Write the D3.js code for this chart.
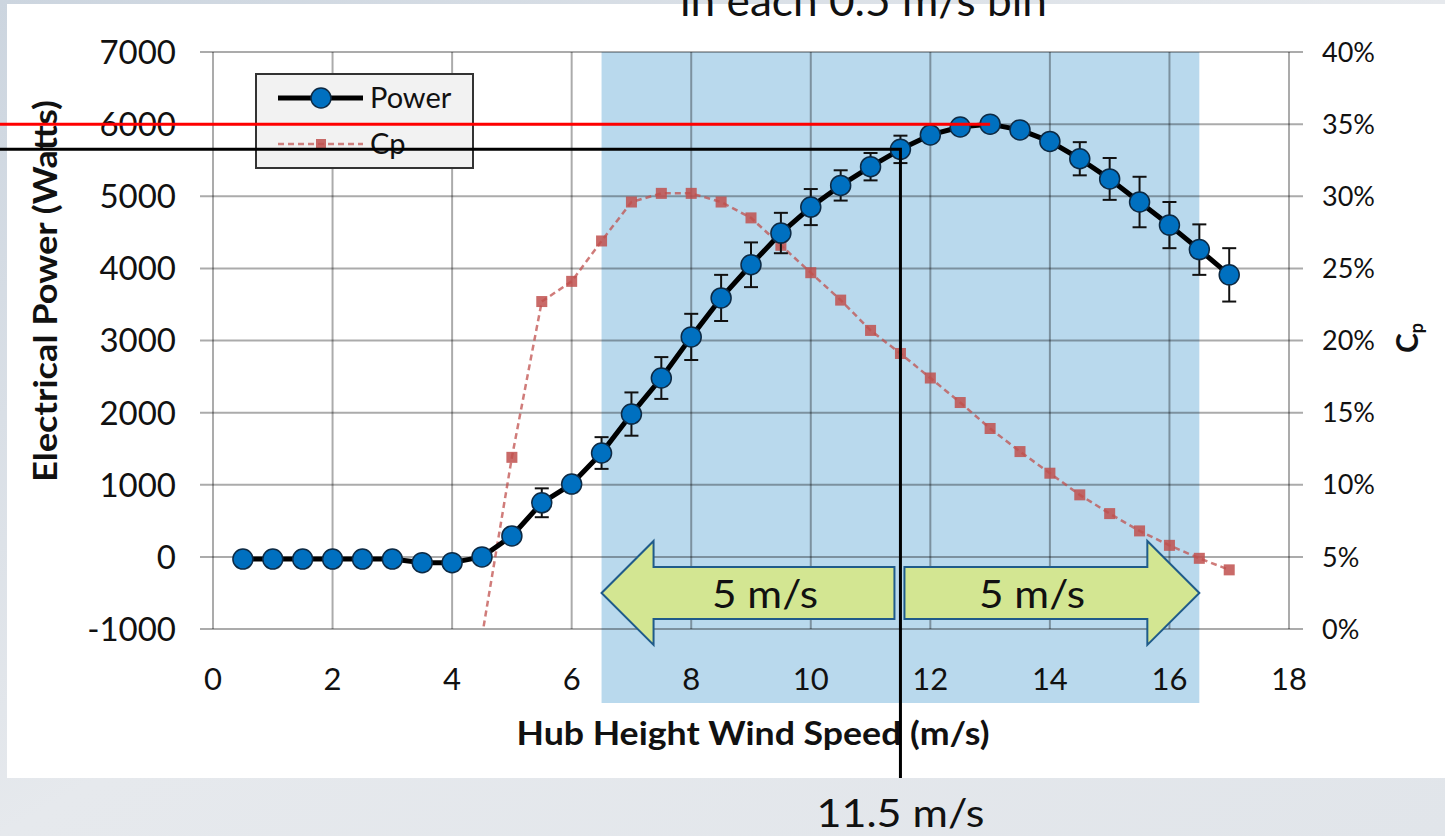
<!DOCTYPE html>
<html>
<head>
<meta charset="utf-8">
<script src="https://cdn.jsdelivr.net/npm/d3@7"></script>
<style>
  body { margin: 0; background: #e2e7ec; }
  svg { display: block; }
  text { font-family: Lato, "Open Sans", sans-serif; fill: #111; }
</style>
</head>
<body>
<script>
let width = 1445;
let height = 836;

// wind speed bins (m/s)
let speeds = [0.5, 1, 1.5, 2, 2.5, 3, 3.5, 4, 4.5, 5, 5.5, 6, 6.5, 7, 7.5, 8, 8.5,
              9, 9.5, 10, 10.5, 11, 11.5, 12, 12.5, 13, 13.5, 14, 14.5, 15, 15.5, 16, 16.5, 17];
// electrical power (W)
let power = [-30, -30, -30, -30, -30, -30, -80, -80, 0, 290, 750, 1010, 1440, 1980, 2480, 3050, 3590,
             4050, 4490, 4850, 5150, 5410, 5650, 5850, 5960, 6000, 5920, 5760, 5520, 5240, 4920, 4600, 4260, 3910];
// +/- error bar (W)
let powerErr = [0, 0, 0, 0, 0, 0, 0, 0, 0, 0, 200, 0, 220, 300, 290, 320, 320,
                310, 280, 250, 210, 190, 190, 0, 0, 0, 0, 0, 230, 290, 350, 320, 350, 370];
// power coefficient (fraction), starts at 4.5 m/s
let cpSpeeds = [4.5, 5, 5.5, 6, 6.5, 7, 7.5, 8, 8.5, 9, 9.5, 10, 10.5, 11, 11.5, 12,
                12.5, 13, 13.5, 14, 14.5, 15, 15.5, 16, 16.5, 17];
let cp = [-0.005, 0.119, 0.227, 0.241, 0.269, 0.296, 0.302, 0.302, 0.296, 0.285, 0.266, 0.247, 0.228, 0.207, 0.191, 0.174,
          0.157, 0.139, 0.123, 0.108, 0.093, 0.080, 0.068, 0.058, 0.049, 0.041];

let xTicks = [0, 2, 4, 6, 8, 10, 12, 14, 16, 18];
let yTicks = [-1000, 0, 1000, 2000, 3000, 4000, 5000, 6000, 7000];
let cpTicks = [0, 0.05, 0.10, 0.15, 0.20, 0.25, 0.30, 0.35, 0.40];

let rangeSpan = [6.5, 16.5];   // shaded band
let ratedSpeed = 11.5;
let peakSpeed = 13;

let x = d3.scaleLinear().domain([0, 18]).range([213, 1289]);
let yP = d3.scaleLinear().domain([-1000, 7000]).range([629, 52]);
let yC = d3.scaleLinear().domain([0, 0.4]).range([629, 52]);

let svg = d3.select("body").append("svg")
  .attr("width", width)
  .attr("height", height);

// backdrop
let defs = svg.append("defs");
let grad = defs.append("linearGradient").attr("id", "sky")
  .attr("x1", 0).attr("y1", 0).attr("x2", 1).attr("y2", 1);
grad.append("stop").attr("offset", "0%").attr("stop-color", "#ccd5df");
grad.append("stop").attr("offset", "50%").attr("stop-color", "#e6e9ed");
grad.append("stop").attr("offset", "100%").attr("stop-color", "#e1e5ea");
defs.append("clipPath").attr("id", "plotclip")
  .append("rect").attr("x", 213).attr("y", 52).attr("width", 1076).attr("height", 577);

svg.append("rect").attr("width", width).attr("height", height).attr("fill", "url(#sky)");
svg.append("rect").attr("x", 7).attr("y", 4).attr("width", width - 7).attr("height", 774).attr("fill", "#fff");

// shaded band
svg.append("rect")
  .attr("x", x(rangeSpan[0]))
  .attr("y", 52)
  .attr("width", x(rangeSpan[1]) - x(rangeSpan[0]))
  .attr("height", 651)
  .attr("fill", "#b9d9ed");

// grid
let grid = svg.append("g").attr("stroke", "#000").attr("stroke-opacity", 0.33).attr("stroke-width", 2);
grid.selectAll(".hg").data(yTicks).enter().append("line")
  .attr("x1", 200).attr("x2", 1303)
  .attr("y1", d => yP(d)).attr("y2", d => yP(d));
grid.selectAll(".vg").data(xTicks).enter().append("line")
  .attr("x1", d => x(d)).attr("x2", d => x(d))
  .attr("y1", 52).attr("y2", 629);

// left axis labels
svg.append("g").selectAll("text").data(yTicks).enter().append("text")
  .attr("x", 176).attr("y", d => yP(d)).attr("dy", "0.36em")
  .attr("text-anchor", "end").attr("font-size", 33)
  .text(d => d);
// right axis labels
svg.append("g").selectAll("text").data(cpTicks).enter().append("text")
  .attr("x", 1322).attr("y", d => yC(d)).attr("dy", "0.36em")
  .attr("font-size", 27)
  .text(d => d3.format(".0%")(d));
// bottom labels
svg.append("g").selectAll("text").data(xTicks).enter().append("text")
  .attr("x", d => x(d)).attr("y", 690)
  .attr("text-anchor", "middle").attr("font-size", 31)
  .text(d => d);

// axis titles
svg.append("text")
  .attr("x", 753).attr("y", 745)
  .attr("text-anchor", "middle").attr("font-size", 32).attr("font-weight", "bold")
  .attr("textLength", 473).attr("lengthAdjust", "spacingAndGlyphs")
  .text("Hub Height Wind Speed (m/s)");
svg.append("text")
  .attr("transform", "translate(57,291) rotate(-90)")
  .attr("text-anchor", "middle").attr("font-size", 33).attr("font-weight", "bold")
  .attr("textLength", 382).attr("lengthAdjust", "spacingAndGlyphs")
  .text("Electrical Power (Watts)");
let cpTitle = svg.append("text")
  .attr("transform", "translate(1418,338) rotate(-90)")
  .attr("text-anchor", "middle").attr("font-size", 30).attr("font-weight", "bold");
cpTitle.append("tspan").text("C");
cpTitle.append("tspan").attr("font-size", 18).attr("dy", 5).text("p");

// Cp series
let cpData = cpSpeeds.map((s, i) => ({ s: s, v: cp[i] }));
let cpLine = d3.line().x(d => x(d.s)).y(d => yC(d.v));
let cpG = svg.append("g").attr("clip-path", "url(#plotclip)");
cpG.append("path")
  .attr("d", cpLine(cpData))
  .attr("fill", "none")
  .attr("stroke", "#c0504d").attr("stroke-opacity", 0.75)
  .attr("stroke-width", 2.5).attr("stroke-dasharray", "6,4");
cpG.selectAll("rect").data(cpData).enter().append("rect")
  .attr("x", d => x(d.s) - 5.5).attr("y", d => yC(d.v) - 5.5)
  .attr("width", 11).attr("height", 11)
  .attr("fill", "#c0504d").attr("fill-opacity", 0.85);

// power series
let pData = speeds.map((s, i) => ({ s: s, v: power[i], e: powerErr[i] }));
let pLine = d3.line().x(d => x(d.s)).y(d => yP(d.v));
svg.append("path")
  .attr("d", pLine(pData))
  .attr("fill", "none").attr("stroke", "#000")
  .attr("stroke-width", 5).attr("stroke-linejoin", "round");

let bars = svg.append("g").attr("stroke", "#111").attr("stroke-width", 2)
  .selectAll("g").data(pData.filter(d => d.e > 0)).enter().append("g");
bars.append("line")
  .attr("x1", d => x(d.s)).attr("x2", d => x(d.s))
  .attr("y1", d => yP(d.v + d.e)).attr("y2", d => yP(d.v - d.e));
bars.append("line")
  .attr("x1", d => x(d.s) - 7).attr("x2", d => x(d.s) + 7)
  .attr("y1", d => yP(d.v + d.e)).attr("y2", d => yP(d.v + d.e));
bars.append("line")
  .attr("x1", d => x(d.s) - 7).attr("x2", d => x(d.s) + 7)
  .attr("y1", d => yP(d.v - d.e)).attr("y2", d => yP(d.v - d.e));

svg.append("g").selectAll("circle").data(pData).enter().append("circle")
  .attr("cx", d => x(d.s)).attr("cy", d => yP(d.v)).attr("r", 10)
  .attr("fill", "#0070c0").attr("stroke", "#0d2a44").attr("stroke-width", 1.5);

// legend
let lg = svg.append("g");
lg.append("rect").attr("x", 256).attr("y", 74).attr("width", 217).attr("height", 94)
  .attr("fill", "#f2f2f2").attr("stroke", "#333").attr("stroke-width", 2);
lg.append("line").attr("x1", 278).attr("x2", 363).attr("y1", 98).attr("y2", 98)
  .attr("stroke", "#000").attr("stroke-width", 5);
lg.append("circle").attr("cx", 321).attr("cy", 98).attr("r", 10)
  .attr("fill", "#0070c0").attr("stroke", "#0d2a44").attr("stroke-width", 1.5);
lg.append("text").attr("x", 370).attr("y", 108).attr("font-size", 29).text("Power");
lg.append("line").attr("x1", 278).attr("x2", 363).attr("y1", 144).attr("y2", 144)
  .attr("stroke", "#c0504d").attr("stroke-opacity", 0.7)
  .attr("stroke-width", 2.5).attr("stroke-dasharray", "6,4");
lg.append("rect").attr("x", 316).attr("y", 139).attr("width", 10).attr("height", 10)
  .attr("fill", "#c0504d").attr("fill-opacity", 0.85);
lg.append("text").attr("x", 370).attr("y", 154).attr("font-size", 29).text("Cp");

// arrows
let ay = yP(-500);
let bodyH = 26, headH = 52, headL = 52;
let lx0 = x(rangeSpan[0]), lx1 = x(ratedSpeed) - 6;
let rx0 = x(ratedSpeed) + 4, rx1 = x(rangeSpan[1]);
let leftArrow = [[lx0, ay], [lx0 + headL, ay - headH], [lx0 + headL, ay - bodyH], [lx1, ay - bodyH],
                 [lx1, ay + bodyH], [lx0 + headL, ay + bodyH], [lx0 + headL, ay + headH]];
let rightArrow = [[rx1, ay], [rx1 - headL, ay - headH], [rx1 - headL, ay - bodyH], [rx0, ay - bodyH],
                  [rx0, ay + bodyH], [rx1 - headL, ay + bodyH], [rx1 - headL, ay + headH]];
svg.selectAll(".arrow").data([leftArrow, rightArrow]).enter().append("path")
  .attr("d", d => "M" + d.join("L") + "Z")
  .attr("fill", "#d3e692").attr("stroke", "#1f5b8a").attr("stroke-width", 2);
svg.selectAll(".alabel").data([765, 1032]).enter().append("text")
  .attr("x", d => d).attr("y", ay + 15).attr("text-anchor", "middle")
  .attr("font-size", 38).attr("textLength", 106).attr("lengthAdjust", "spacingAndGlyphs")
  .text("5 m/s");

// reference lines
svg.append("line")
  .attr("x1", 0).attr("x2", x(peakSpeed))
  .attr("y1", yP(6000)).attr("y2", yP(6000))
  .attr("stroke", "#ff0000").attr("stroke-width", 3);
let ratedPower = power[speeds.indexOf(ratedSpeed)];
svg.append("path")
  .attr("d", "M0," + yP(ratedPower) + "H" + x(ratedSpeed) + "V778")
  .attr("fill", "none").attr("stroke", "#000").attr("stroke-width", 3);

svg.append("text").attr("x", x(ratedSpeed)).attr("y", 827).attr("text-anchor", "middle")
  .attr("font-size", 38).attr("textLength", 168).attr("lengthAdjust", "spacingAndGlyphs")
  .text("11.5 m/s");
svg.append("text").attr("x", 680).attr("y", 16)
  .attr("font-size", 42).attr("textLength", 367).attr("lengthAdjust", "spacingAndGlyphs")
  .text("in each 0.5 m/s bin");
</script>
</body>
</html>
